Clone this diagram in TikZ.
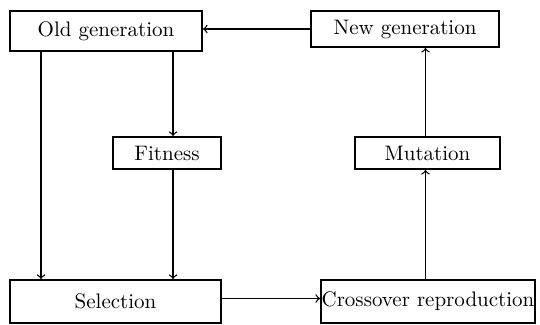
\documentclass[tikz,border=0pt]{standalone}
\usepackage{tikz}
\usetikzlibrary{shapes,arrows,positioning}
\tikzstyle{genblock}=[rectangle, draw, line width=1pt, align=center, inner sep=0pt]
\tikzstyle{flow}=[->, line width=0.65pt]

\begin{document}
\begin{tikzpicture}[x=0.5pt, y=-0.5pt, every node/.style = {font=\fontsize{10.5}{12}\selectfont}]
\useasboundingbox (0,0) rectangle (540,325);

\node[genblock, minimum width=96pt, minimum height=20pt] (old) at (106,31) {Old generation};
\node[genblock, minimum width=94pt, minimum height=18pt] (new) at (405,29) {New generation};
\node[genblock, minimum width=54pt, minimum height=16pt] (fit) at (167,153) {Fitness};
\node[genblock, minimum width=72.5pt, minimum height=16pt] (mut) at (427.5,153) {Mutation};
\node[genblock, minimum width=105.5pt, minimum height=21.5pt] (sel) at (115.5,301.5) {Selection};
\node[genblock, minimum width=107pt, minimum height=21.5pt] (cross) at (428,301.5) {Crossover reproduction};

\draw[flow] (new.west) -- (new.west -| old.east);
\draw[flow] ([xshift=16pt]old.south west) -- ([xshift=16pt]sel.north west);
\draw[flow] ([xshift=3pt]fit.north |- old.south) -- ([xshift=3pt]fit.north);
\draw[flow] ([xshift=3pt]fit.south) -- ([xshift=3pt]fit.south |- sel.north);
\draw[flow] ([yshift=1.5pt]sel.east) -- ([yshift=1.5pt]cross.west);
\draw[flow] ([xshift=-1pt]mut.south |- cross.north) -- ([xshift=-1pt]mut.south);
\draw[flow] ([xshift=-1pt]mut.north) -- ([xshift=-1pt]mut.north |- new.south);

\end{tikzpicture}
\end{document}
